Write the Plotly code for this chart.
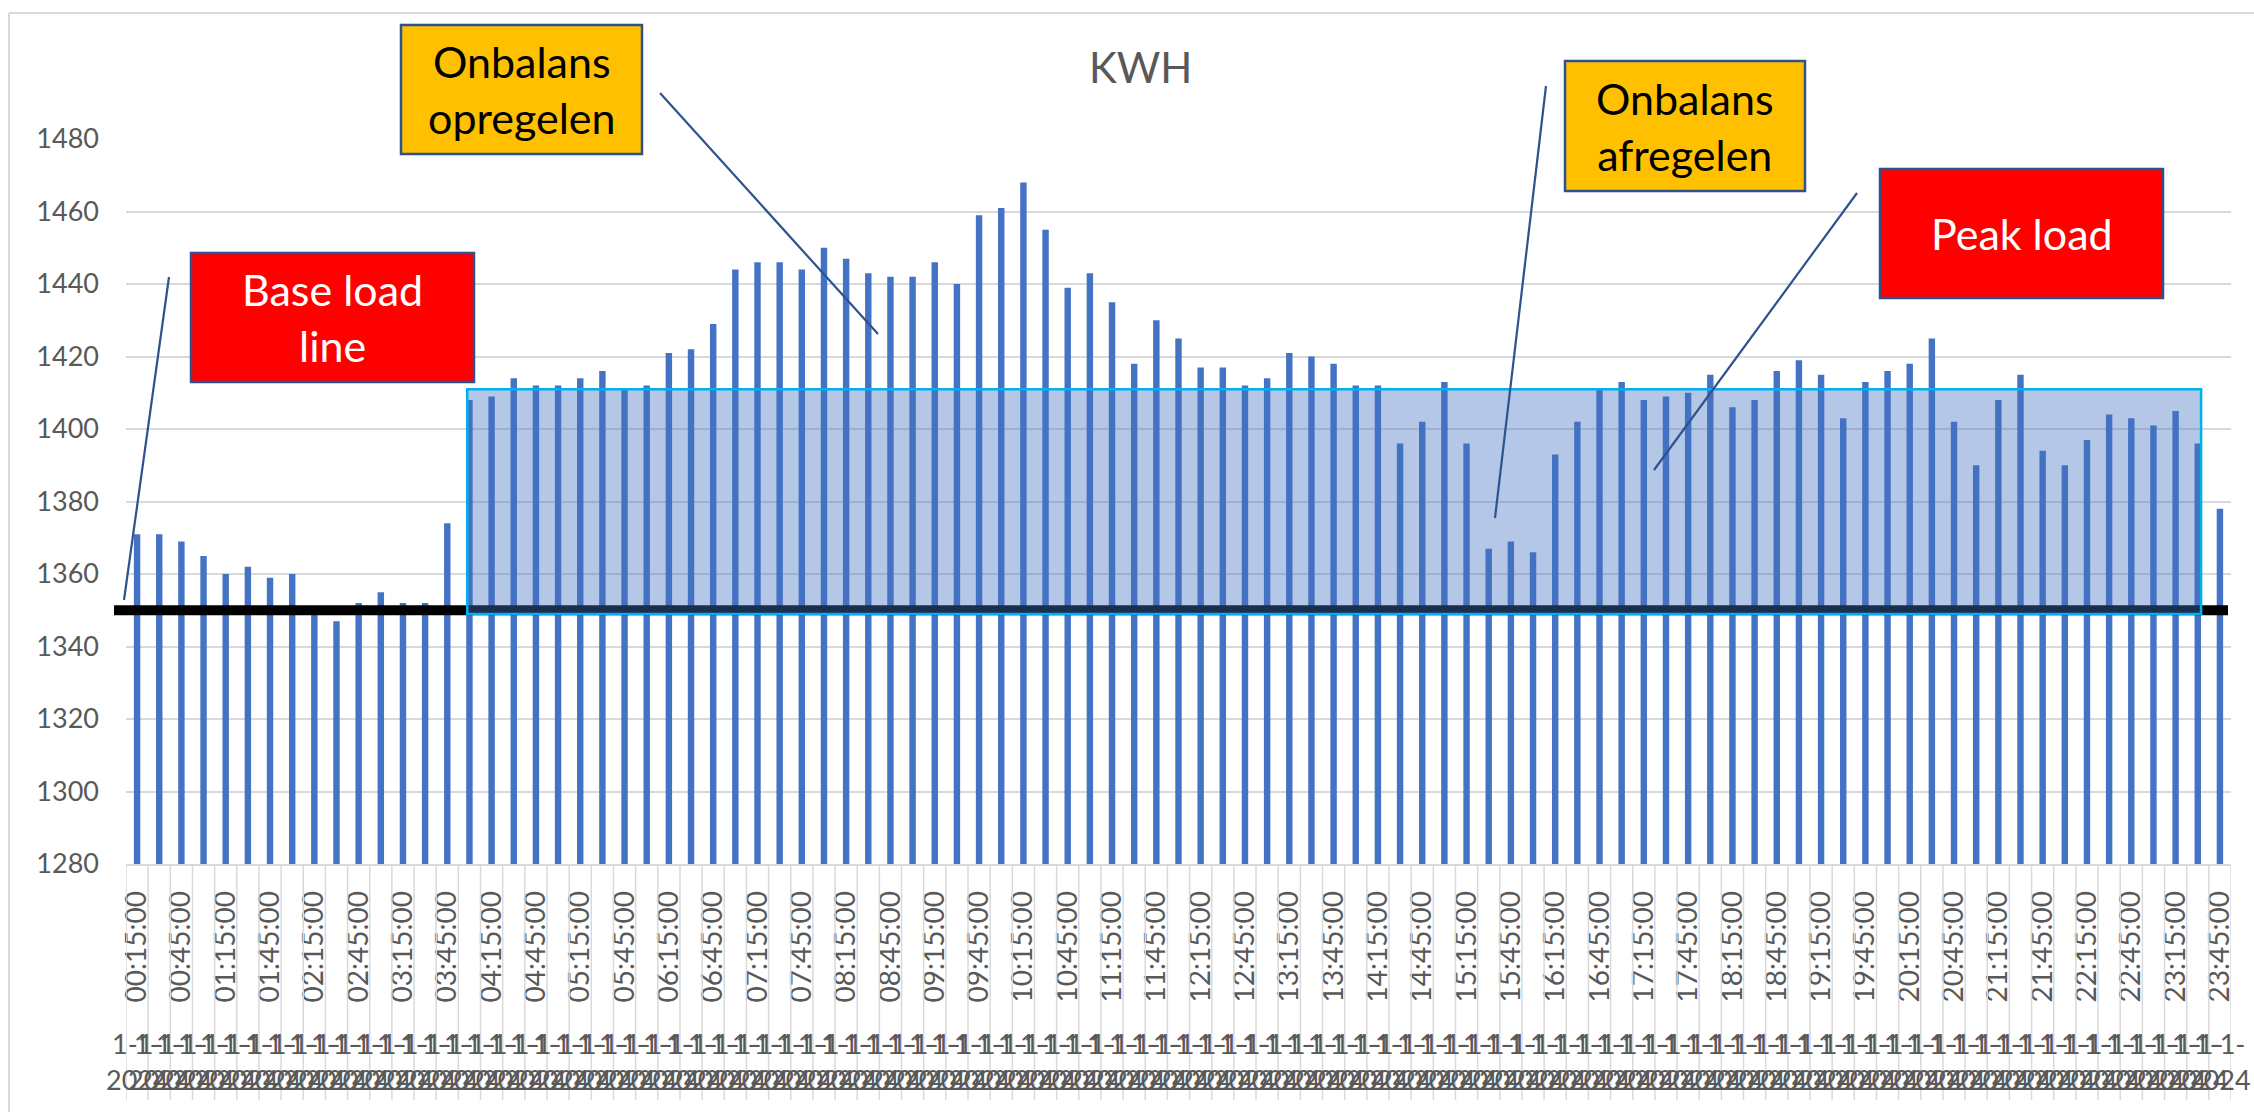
import plotly.graph_objects as go

# ---------------- data ----------------
times = [f"{(15*(i+1))//60:02d}:{(15*(i+1))%60:02d}:00" for i in range(95)]  # 00:15:00 .. 23:45:00
kwh = [1371, 1371, 1369, 1365, 1360, 1362, 1359, 1360, 1350, 1347,
       1352, 1355, 1352, 1352, 1374, 1408, 1409, 1414, 1412, 1412,
       1414, 1416, 1411, 1412, 1421, 1422, 1429, 1444, 1446, 1446,
       1444, 1450, 1447, 1443, 1442, 1442, 1446, 1440, 1459, 1461,
       1468, 1455, 1439, 1443, 1435, 1418, 1430, 1425, 1417, 1417,
       1412, 1414, 1421, 1420, 1418, 1412, 1412, 1396, 1402, 1413,
       1396, 1367, 1369, 1366, 1393, 1402, 1411, 1413, 1408, 1409,
       1410, 1415, 1406, 1408, 1416, 1419, 1415, 1403, 1413, 1416,
       1418, 1425, 1402, 1390, 1408, 1415, 1394, 1390, 1397, 1404,
       1403, 1401, 1405, 1396, 1378]
date_line1 = "1-1-"
date_line2 = "2024"
y_ticks = [1280, 1300, 1320, 1340, 1360, 1380, 1400, 1420, 1440, 1460, 1480]

BASE_LOAD = 1350
PEAK_LOW, PEAK_HIGH = 1349, 1411
PEAK_X0, PEAK_X1 = 14.9, 93.15

# ---------------- geometry helpers (plot area in px) ----------------
W, H = 2254, 1112
L, R, T, B = 126, 2231, 139, 864
PW, PH = R - L, B - T


def px(x):
    return (x - L) / PW


def py(y):
    return (B - y) / PH


FONT = "Lato"
GRAY = "#595959"
GRID = "#D9D9D9"
BLUE = "#4472C4"
DARK = "#2F528F"

fig = go.Figure()
fig.add_trace(go.Bar(x=times, y=kwh, marker=dict(color=BLUE, line=dict(width=0)),
                     width=0.29, hoverinfo="x+y"))

shapes = []
# base load line
shapes.append(dict(type="line", xref="paper", yref="y", x0=px(114), x1=px(2228),
                   y0=BASE_LOAD, y1=BASE_LOAD, line=dict(color="black", width=10), layer="above"))
# peak load region
shapes.append(dict(type="rect", xref="x", yref="y", x0=PEAK_X0, x1=PEAK_X1,
                   y0=PEAK_LOW, y1=PEAK_HIGH, fillcolor="rgba(68,114,196,0.4)",
                   line=dict(color="#00B0F0", width=2.5), layer="above"))

# category separator lines below the axis
for i in range(len(times) + 1):
    shapes.append(dict(type="line", xref="x", yref="paper", x0=i - 0.5, x1=i - 0.5,
                       y0=0, y1=py(1100), line=dict(color=GRID, width=1.5), layer="above"))

# chart border (left & top)
shapes.append(dict(type="line", xref="paper", yref="paper", x0=px(9), x1=px(9),
                   y0=py(13), y1=py(1112), line=dict(color=GRID, width=2)))
shapes.append(dict(type="line", xref="paper", yref="paper", x0=px(9), x1=px(2254),
                   y0=py(13), y1=py(13), line=dict(color=GRID, width=2)))

# callout boxes
boxes = [
    ("Base load<br>line", 191, 253, 474, 382, "#FF0000", "white"),
    ("Onbalans<br>opregelen", 401, 25, 642, 154, "#FFC000", "black"),
    ("Onbalans<br>afregelen", 1565, 61, 1805, 191, "#FFC000", "black"),
    ("Peak load", 1880, 169, 2163, 298, "#FF0000", "white"),
]
annotations = []
for text, x0, y0, x1, y1, fill, fc in boxes:
    shapes.append(dict(type="rect", xref="paper", yref="paper", x0=px(x0), x1=px(x1),
                       y0=py(y1), y1=py(y0), fillcolor=fill,
                       line=dict(color=DARK, width=2.5), layer="above"))
    annotations.append(dict(text=text, xref="paper", yref="paper", x=px((x0 + x1) / 2),
                            y=py((y0 + y1) / 2), xanchor="center", yanchor="middle",
                            showarrow=False, font=dict(family=FONT, size=43, color=fc)))

# callout pointer lines
pointers = [((169, 277), (124, 600)), ((660, 93), (878, 334)),
            ((1546, 86), (1495, 518)), ((1857, 193), (1654, 470))]
for (xa, ya), (xb, yb) in pointers:
    shapes.append(dict(type="line", xref="paper", yref="paper", x0=px(xa), y0=py(ya),
                       x1=px(xb), y1=py(yb), line=dict(color=DARK, width=2.2), layer="above"))

# title
annotations.append(dict(text="KWH", xref="paper", yref="paper", x=px(1140), y=py(67),
                        xanchor="center", yanchor="middle", showarrow=False,
                        font=dict(family=FONT, size=42, color=GRAY)))

# second level date labels
for t in times:
    annotations.append(dict(text=date_line1, xref="x", yref="paper", x=t, y=py(1043),
                            xanchor="center", yanchor="middle", showarrow=False,
                            font=dict(family=FONT, size=27, color=GRAY)))
    annotations.append(dict(text=date_line2, xref="x", yref="paper", x=t, y=py(1079),
                            xanchor="center", yanchor="middle", showarrow=False,
                            font=dict(family=FONT, size=27, color=GRAY)))

fig.update_layout(
    template="none",
    width=W, height=H,
    margin=dict(l=L, r=W - R, t=T, b=H - B, pad=0, autoexpand=False),
    paper_bgcolor="white", plot_bgcolor="white",
    showlegend=False, hovermode=False,
    shapes=shapes, annotations=annotations,
    xaxis=dict(type="category", tickmode="array", tickvals=times[::2], ticktext=times[::2],
               tickangle=-90, tickfont=dict(family=FONT, size=28, color=GRAY),
               showgrid=False, showline=True, linecolor=GRID, linewidth=1.5, automargin=False,
               ticks="", ticklabelstandoff=14, range=[-0.5, len(times) - 0.5], fixedrange=True),
    yaxis=dict(range=[1280, 1480], tickvals=y_ticks, showgrid=True, gridcolor=GRID,
               gridwidth=1.5, zeroline=False, showline=False, ticks="", automargin=False,
               tickfont=dict(family=FONT, size=27, color=GRAY), ticklabelstandoff=26,
               fixedrange=True),
)

fig.write_html("out.html", config={"displayModeBar": False},
               post_script="document.body.style.margin='0';document.body.style.overflow='hidden';")
